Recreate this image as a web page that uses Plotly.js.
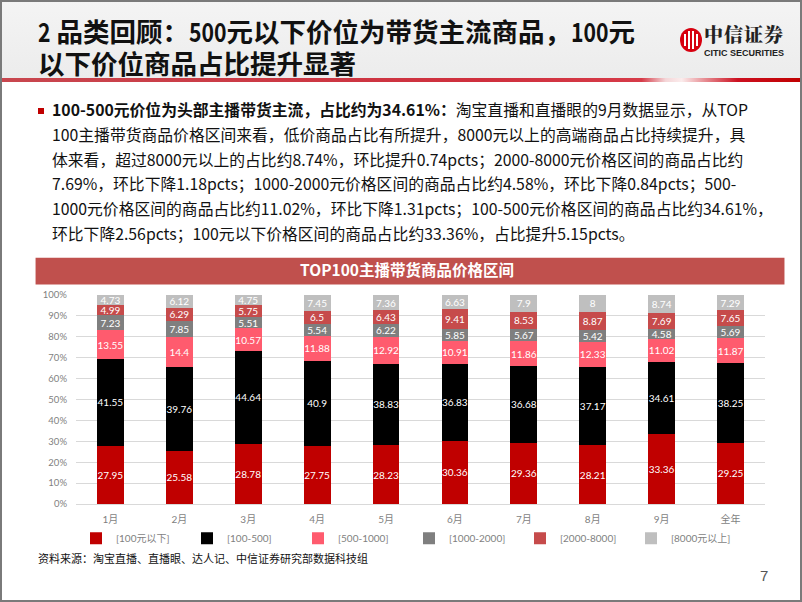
<!DOCTYPE html>
<html>
<head>
<meta charset="utf-8">
<script src="https://cdn.plot.ly/plotly-3.0.1.min.js"></script>
<style>
  html,body{margin:0;padding:0;background:#fff;}
  #page{position:relative;width:802px;height:602px;overflow:hidden;background:#fff;}
  #frame{position:absolute;left:0;top:0;width:802px;height:602px;box-sizing:border-box;border:2px solid #7a7a7a;pointer-events:none;z-index:10;}
  #header{position:absolute;left:0;top:0;width:802px;height:79px;background:linear-gradient(180deg,#f4f4f4 0%,#ececec 100%);}
  #redline{position:absolute;left:0;top:78px;width:802px;height:4px;
    background:linear-gradient(90deg,#c8474f 0%,#cf2f3d 60%,#d63b48 80%,#f4d6d8 83%,#fbecec 85%,#e68a90 88%,#cc1020 92%,#c00000 100%);}
  .tl{position:absolute;left:38px;font-family:"Noto Sans CJK SC",sans-serif;font-weight:bold;font-size:26.5px;line-height:30px;height:30px;color:#111;white-space:nowrap;overflow:visible;}
  .n{display:inline-block;vertical-align:top;height:30px;line-height:30px;transform-origin:0 50%;}
  #logoCircle{position:absolute;left:680px;top:28px;width:22px;height:24px;border-radius:50%;background:#d7000f;overflow:hidden;}
  #logoCircle i{position:absolute;top:3px;width:2px;height:18px;background:#fff;}
  #logoZh{position:absolute;left:704px;top:24px;font-family:"Noto Serif CJK SC","Noto Sans CJK SC",serif;font-weight:900;font-size:19px;letter-spacing:1px;color:#222;line-height:20px;height:20px;white-space:nowrap;}
  #logoEn{position:absolute;left:704px;top:49px;font-family:"Liberation Sans",sans-serif;font-weight:bold;font-size:8.5px;line-height:9px;color:#222;white-space:nowrap;transform-origin:0 50%;}
  #bullet{position:absolute;left:38px;top:108px;width:6px;height:6px;background:#c00000;}
  #body{position:absolute;left:52px;top:98px;font-family:"Noto Sans CJK SC",sans-serif;font-size:15.8px;line-height:24.8px;color:#111;}
  #body div{white-space:nowrap;}
  #chart{position:absolute;left:0;top:250px;width:802px;height:300px;}
  #source{position:absolute;left:38px;top:550px;font-family:"Noto Sans CJK SC",sans-serif;font-size:11px;color:#111;}
  #pnum{position:absolute;left:760px;top:567px;font-family:"Liberation Sans",sans-serif;font-size:15px;color:#555;}
</style>
</head>
<body>
<div id="page">
  <div id="header"></div>
  <div id="redline"></div>
  <div class="tl" style="top:16px"><span class="n">2</span> 品类回顾：<span class="n">500</span>元以下价位为带货主流商品，<span class="n">100</span>元</div>
  <div class="tl" style="top:48px">以下价位商品占比提升显著</div>
  <div id="logoCircle"><i style="left:4px;height:12px;top:6px"></i><i style="left:8px"></i><i style="left:12px"></i><i style="left:16px;height:12px;top:6px"></i></div>
  <div id="logoZh">中信证券</div>
  <div id="logoEn">CITIC SECURITIES</div>
  <div id="bullet"></div>
  <div id="body">
    <div><b>100-500元价位为头部主播带货主流，占比约为34.61%：</b>淘宝直播和直播眼的9月数据显示，从TOP</div>
    <div>100主播带货商品价格区间来看，低价商品占比有所提升，8000元以上的高端商品占比持续提升，具</div>
    <div>体来看，超过8000元以上的占比约8.74%，环比提升0.74pcts；2000-8000元价格区间的商品占比约</div>
    <div>7.69%，环比下降1.18pcts；1000-2000元价格区间的商品占比约4.58%，环比下降0.84pcts；500-</div>
    <div>1000元价格区间的商品占比约11.02%，环比下降1.31pcts；100-500元价格区间的商品占比约34.61%，</div>
    <div>环比下降2.56pcts；100元以下价格区间的商品占比约33.36%，占比提升5.15pcts。</div>
  </div>
  <div id="chart"></div>
  <div id="source">资料来源：淘宝直播、直播眼、达人记、中信证券研究部数据科技组</div>
  <div id="pnum">7</div>
  <div id="frame"></div>
</div>
<script>
const categories = ["1月","2月","3月","4月","5月","6月","7月","8月","9月","全年"];
const seriesNames = ["[100元以下]","[100-500]","[500-1000]","[1000-2000]","[2000-8000]","[8000元以上]"];
const below100   = [27.95, 25.58, 28.78, 27.75, 28.23, 30.36, 29.36, 28.21, 33.36, 29.25];
const r100_500   = [41.55, 39.76, 44.64, 40.9, 38.83, 36.83, 36.68, 37.17, 34.61, 38.25];
const r500_1000  = [13.55, 14.4, 10.57, 11.88, 12.92, 10.91, 11.86, 12.33, 11.02, 11.87];
const r1000_2000 = [7.23, 7.85, 5.51, 5.54, 6.22, 5.85, 5.67, 5.42, 4.58, 5.69];
const r2000_8000 = [4.99, 6.29, 5.75, 6.5, 6.43, 9.41, 8.53, 8.87, 7.69, 7.65];
const above8000  = [4.73, 6.12, 4.75, 7.45, 7.36, 6.63, 7.9, 8, 8.74, 7.29];
const yTicks = [0,10,20,30,40,50,60,70,80,90,100];
const yTickLabels = ["0%","10%","20%","30%","40%","50%","60%","70%","80%","90%","100%"];

// narrow the latin digits of the title (reference uses a condensed face)
document.querySelectorAll('.tl .n').forEach(el => {
  const w = el.getBoundingClientRect().width;
  const s = 0.8;
  el.style.transform = 'scaleX(' + s + ')';
  el.style.marginRight = (-(w * (1 - s))) + 'px';
});
(function(){
  const el = document.getElementById('logoEn');
  const w = el.getBoundingClientRect().width;
  el.style.transform = 'scaleX(' + (80 / w) + ')';
})();

const seriesValues = [below100, r100_500, r500_1000, r1000_2000, r2000_8000, above8000];
const colors = ["#c00000","#000000","#ff5b6e","#7f7f7f","#c64b4b","#bfbfbf"];

const traces = seriesValues.map((vals, i) => ({
  type: "bar",
  name: seriesNames[i],
  x: categories,
  y: vals,
  marker: {color: colors[i]},
  text: vals.map(v => String(v)),
  texttemplate: "%{text}",
  textposition: "inside",
  insidetextanchor: "middle",
  constraintext: "none",
  textangle: 0,
  textfont: {family: "Lato, 'Noto Sans CJK SC', sans-serif", size: 10, color: "#ffffff"},
  hoverinfo: "skip"
}));

const layout = {
  width: 802, height: 300,
  margin: {l: 75.5, r: 36.5, t: 44.5, b: 45.5, autoexpand: false},
  paper_bgcolor: "rgba(0,0,0,0)",
  plot_bgcolor: "rgba(0,0,0,0)",
  barmode: "stack",
  bargap: 0.61,
  showlegend: true,
  title: {
    text: "<b>TOP100主播带货商品价格区间</b>",
    font: {family: "'Noto Sans CJK SC',sans-serif", size: 15.5, color: "#ffffff"},
    x: 407/802, xref: "container", xanchor: "center",
    y: 1 - 20.5/300, yref: "container", yanchor: "middle"
  },
  shapes: [{
    type: "rect", xref: "paper", yref: "paper", layer: "below",
    x0: (35-75.5)/690, x1: (785-75.5)/690,
    y0: 1 + (44.5-34)/210, y1: 1 + (44.5-7)/210,
    fillcolor: "#c0504d", line: {width: 0}
  }],
  xaxis: {
    type: "category",
    tickfont: {family: "Lato, 'Noto Sans CJK SC', sans-serif", size: 10, color: "#7f7f7f"},
    showgrid: false, zeroline: false, showline: false, ticks: "",
    ticklabelstandoff: 8
  },
  yaxis: {
    range: [0, 100],
    tickvals: yTicks, ticktext: yTickLabels,
    tickfont: {family: "Lato, 'Noto Sans CJK SC', sans-serif", size: 9.5, color: "#7f7f7f"},
    gridcolor: "#d9d9d9", gridwidth: 1,
    zeroline: true, zerolinecolor: "#d9d9d9", zerolinewidth: 1,
    showline: false, ticks: "", ticklabelstandoff: 8
  },
  legend: {
    orientation: "h",
    x: 0.0, xanchor: "left",
    y: -0.095, yanchor: "top",
    traceorder: "normal",
    entrywidth: 66, entrywidthmode: "pixels",
    itemwidth: 30,
    font: {family: "Lato, 'Noto Sans CJK SC', sans-serif", size: 10, color: "#7f7f7f"},
    bgcolor: "rgba(0,0,0,0)"
  }
};

Plotly.newPlot("chart", traces, layout, {displayModeBar: false, staticPlot: true});
</script>
</body>
</html>
